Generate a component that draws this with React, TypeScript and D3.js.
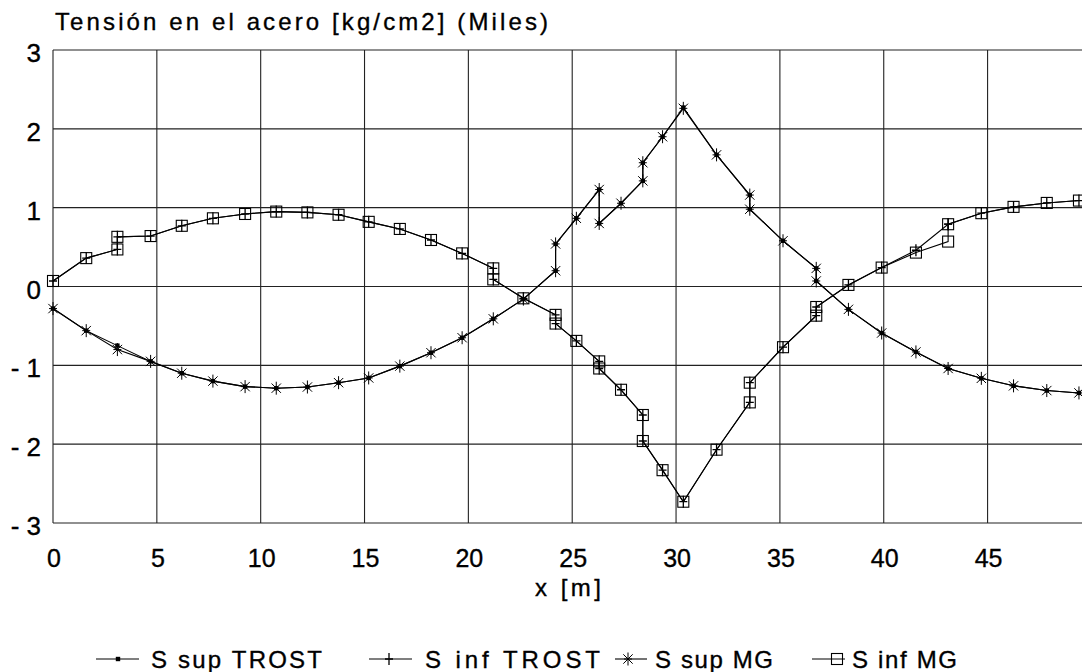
import React from "react";
import * as d3 from "d3";

const supX = [0, 1.6, 3.1, 4.7, 6.2, 7.7, 9.25, 10.75, 12.25, 13.75, 15.2, 16.7, 18.2, 19.7, 21.2, 22.65, 24.2, 24.2, 25.2, 26.3, 26.3, 27.35, 28.4, 28.4, 29.35, 30.35, 31.95, 33.55, 33.55, 35.15, 36.75, 36.75, 38.3, 39.9, 41.55, 43.1, 44.7, 46.25, 47.85, 49.4];
const supTrost = [-0.28, -0.56, -0.75, -0.95, -1.1, -1.2, -1.27, -1.29, -1.275, -1.22, -1.16, -1.01, -0.84, -0.65, -0.41, -0.16, 0.2, 0.54, 0.865, 1.23, 0.8, 1.056, 1.34, 1.57, 1.9, 2.27, 1.67, 1.16, 0.98, 0.58, 0.23, 0.07, -0.29, -0.59, -0.83, -1.04, -1.165, -1.26, -1.32, -1.35];
const supMG = [-0.28, -0.56, -0.8, -0.95, -1.1, -1.2, -1.27, -1.29, -1.275, -1.22, -1.16, -1.01, -0.84, -0.65, -0.41, -0.16, 0.2, 0.54, 0.865, 1.23, 0.8, 1.056, 1.34, 1.57, 1.9, 2.26, 1.67, 1.16, 0.98, 0.58, 0.23, 0.07, -0.29, -0.59, -0.83, -1.04, -1.165, -1.26, -1.32, -1.35];

const infX = [0, 1.6, 3.1, 3.1, 4.7, 6.2, 7.7, 9.25, 10.75, 12.25, 13.75, 15.2, 16.7, 18.2, 19.7, 21.2, 21.2, 22.65, 24.2, 24.2, 25.2, 26.3, 26.3, 27.35, 28.4, 28.4, 29.35, 30.35, 31.95, 33.55, 33.55, 35.15, 36.75, 36.75, 38.3, 39.9, 41.55, 43.1, 43.1, 44.7, 46.25, 47.85, 49.4];
const infTrost = [0.07, 0.36, 0.47, 0.63, 0.64, 0.77, 0.865, 0.92, 0.95, 0.94, 0.91, 0.82, 0.73, 0.59, 0.42, 0.23, 0.09, -0.15, -0.36, -0.47, -0.69, -0.95, -1.04, -1.31, -1.63, -1.96, -2.33, -2.73, -2.07, -1.47, -1.22, -0.77, -0.37, -0.26, 0.02, 0.24, 0.46, 0.79, 0.79, 0.93, 1.01, 1.06, 1.09];
const infMG = [0.07, 0.36, 0.47, 0.63, 0.64, 0.77, 0.865, 0.92, 0.95, 0.94, 0.91, 0.82, 0.73, 0.59, 0.42, 0.23, 0.09, -0.15, -0.36, -0.47, -0.69, -0.95, -1.04, -1.31, -1.63, -1.96, -2.33, -2.73, -2.07, -1.47, -1.22, -0.77, -0.37, -0.26, 0.02, 0.24, 0.43, 0.57, 0.79, 0.93, 1.01, 1.06, 1.09];

const xTicks = [0, 5, 10, 15, 20, 25, 30, 35, 40, 45];
const yTicks = [-3, -2, -1, 0, 1, 2, 3];
const yTickLabels = ["-3", "-2", "-1", "0", "1", "2", "3"];

const seriesNames = ["S sup TROST", "S inf TROST", "S sup MG", "S inf MG"];
const titleText = "Tensión en el acero [kg/cm2] (Miles)";
const xTitle = "x [m]";

const FONT = "'Liberation Sans', Arial, Helvetica, sans-serif";

type MarkerKind = "dot" | "plus" | "star" | "square";

function Marker({ kind, cx, cy }: { kind: MarkerKind; cx: number; cy: number }) {
  if (kind === "dot") {
    return <rect x={cx - 2.2} y={cy - 2.2} width={4.4} height={4.4} fill="#000" />;
  }
  if (kind === "plus") {
    return (
      <path
        d={`M${cx},${cy - 6}V${cy + 6}M${cx - 4},${cy}H${cx + 4}`}
        stroke="#000"
        strokeWidth={1.3}
        fill="none"
      />
    );
  }
  if (kind === "star") {
    const r = 6.5;
    const d = r * 0.72;
    return (
      <path
        d={`M${cx},${cy - r}V${cy + r}M${cx - d},${cy - d}L${cx + d},${cy + d}M${cx - d},${cy + d}L${cx + d},${cy - d}M${cx - 4},${cy}H${cx + 4}`}
        stroke="#000"
        strokeWidth={1}
        fill="none"
      />
    );
  }
  return <rect x={cx - 5.5} y={cy - 5.5} width={11} height={11} fill="none" stroke="#000" strokeWidth={1.1} />;
}

export default function App() {
  const W = 1082;
  const H = 672;
  const x = d3.scaleLinear().domain([0, 49.45]).range([53, 1080]);
  const y = d3.scaleLinear().domain([-3, 3]).range([523, 50]);

  const line = d3
    .line<[number, number]>()
    .x((d) => x(d[0]))
    .y((d) => y(d[1]));

  const series: { xs: number[]; ys: number[]; kind: MarkerKind }[] = [
    { xs: supX, ys: supTrost, kind: "dot" },
    { xs: infX, ys: infTrost, kind: "plus" },
    { xs: supX, ys: supMG, kind: "star" },
    { xs: infX, ys: infMG, kind: "square" },
  ];

  const legend = [
    { kind: "dot" as MarkerKind, x1: 96, x2: 139, mx: 118, tx: 151, tl: 171 },
    { kind: "plus" as MarkerKind, x1: 369, x2: 412, mx: 389, tx: 425, tl: 175 },
    { kind: "star" as MarkerKind, x1: 615, x2: 647, mx: 628, tx: 655, tl: 118 },
    { kind: "square" as MarkerKind, x1: 812, x2: 845, mx: 837, tx: 852, tl: 105 },
  ];

  const textStyle = { stroke: "#000", strokeWidth: 0.35 } as React.CSSProperties;

  return (
    <svg width={W} height={H} style={{ position: "absolute", left: 0, top: 0, background: "#fff" }}>
      <rect x={0} y={0} width={W} height={H} fill="#fff" />
      {/* grid */}
      {xTicks.map((t) => (
        <line key={"gx" + t} x1={x(t)} x2={x(t)} y1={y(3)} y2={y(-3)} stroke="#222" strokeWidth={1.1} />
      ))}
      {yTicks.map((t) => (
        <line key={"gy" + t} x1={x(0)} x2={1082} y1={y(t)} y2={y(t)} stroke="#222" strokeWidth={1.1} />
      ))}
      {/* series lines */}
      {series.map((s, i) => {
        const pts: [number, number][] = s.xs.map((v, j) => [v, s.ys[j]]);
        return <path key={"l" + i} d={line(pts) || ""} fill="none" stroke="#000" strokeWidth={1.1} />;
      })}
      {/* markers */}
      {series.map((s, i) => (
        <g key={"m" + i}>
          {s.xs.map((v, j) => (
            <Marker key={j} kind={s.kind} cx={x(v)} cy={y(s.ys[j])} />
          ))}
        </g>
      ))}
      {/* title */}
      <text x={55} y={30} fontFamily={FONT} fontSize={24} textLength={493} lengthAdjust="spacing" fill="#000" style={textStyle}>
        {titleText}
      </text>
      {/* y tick labels */}
      {yTicks.map((t, i) => (
        <text
          key={"yl" + t}
          x={41}
          y={y(t) + 12}
          fontFamily={FONT}
          fontSize={26}
          textAnchor="end"
          fill="#000"
          style={textStyle}
        >
          {t < 0 ? yTickLabels[i].replace("-", "- ") : yTickLabels[i]}
        </text>
      ))}
      {/* x tick labels */}
      {xTicks.map((t) => (
        <text key={"xl" + t} x={x(t) + 1} y={567} fontFamily={FONT} fontSize={25} textAnchor="middle" fill="#000" style={textStyle}>
          {String(t)}
        </text>
      ))}
      <text x={535} y={596} fontFamily={FONT} fontSize={24} textLength={66} lengthAdjust="spacing" fill="#000" style={textStyle}>
        {xTitle}
      </text>
      {/* legend */}
      {legend.map((l, i) => (
        <g key={"lg" + i}>
          <line x1={l.x1} x2={l.x2} y1={659} y2={659} stroke="#000" strokeWidth={1.1} />
          <Marker kind={l.kind} cx={l.mx} cy={659} />
          <text x={l.tx} y={668} fontFamily={FONT} fontSize={24} textLength={l.tl} lengthAdjust="spacing" fill="#000" style={textStyle}>
            {seriesNames[i]}
          </text>
        </g>
      ))}
    </svg>
  );
}
